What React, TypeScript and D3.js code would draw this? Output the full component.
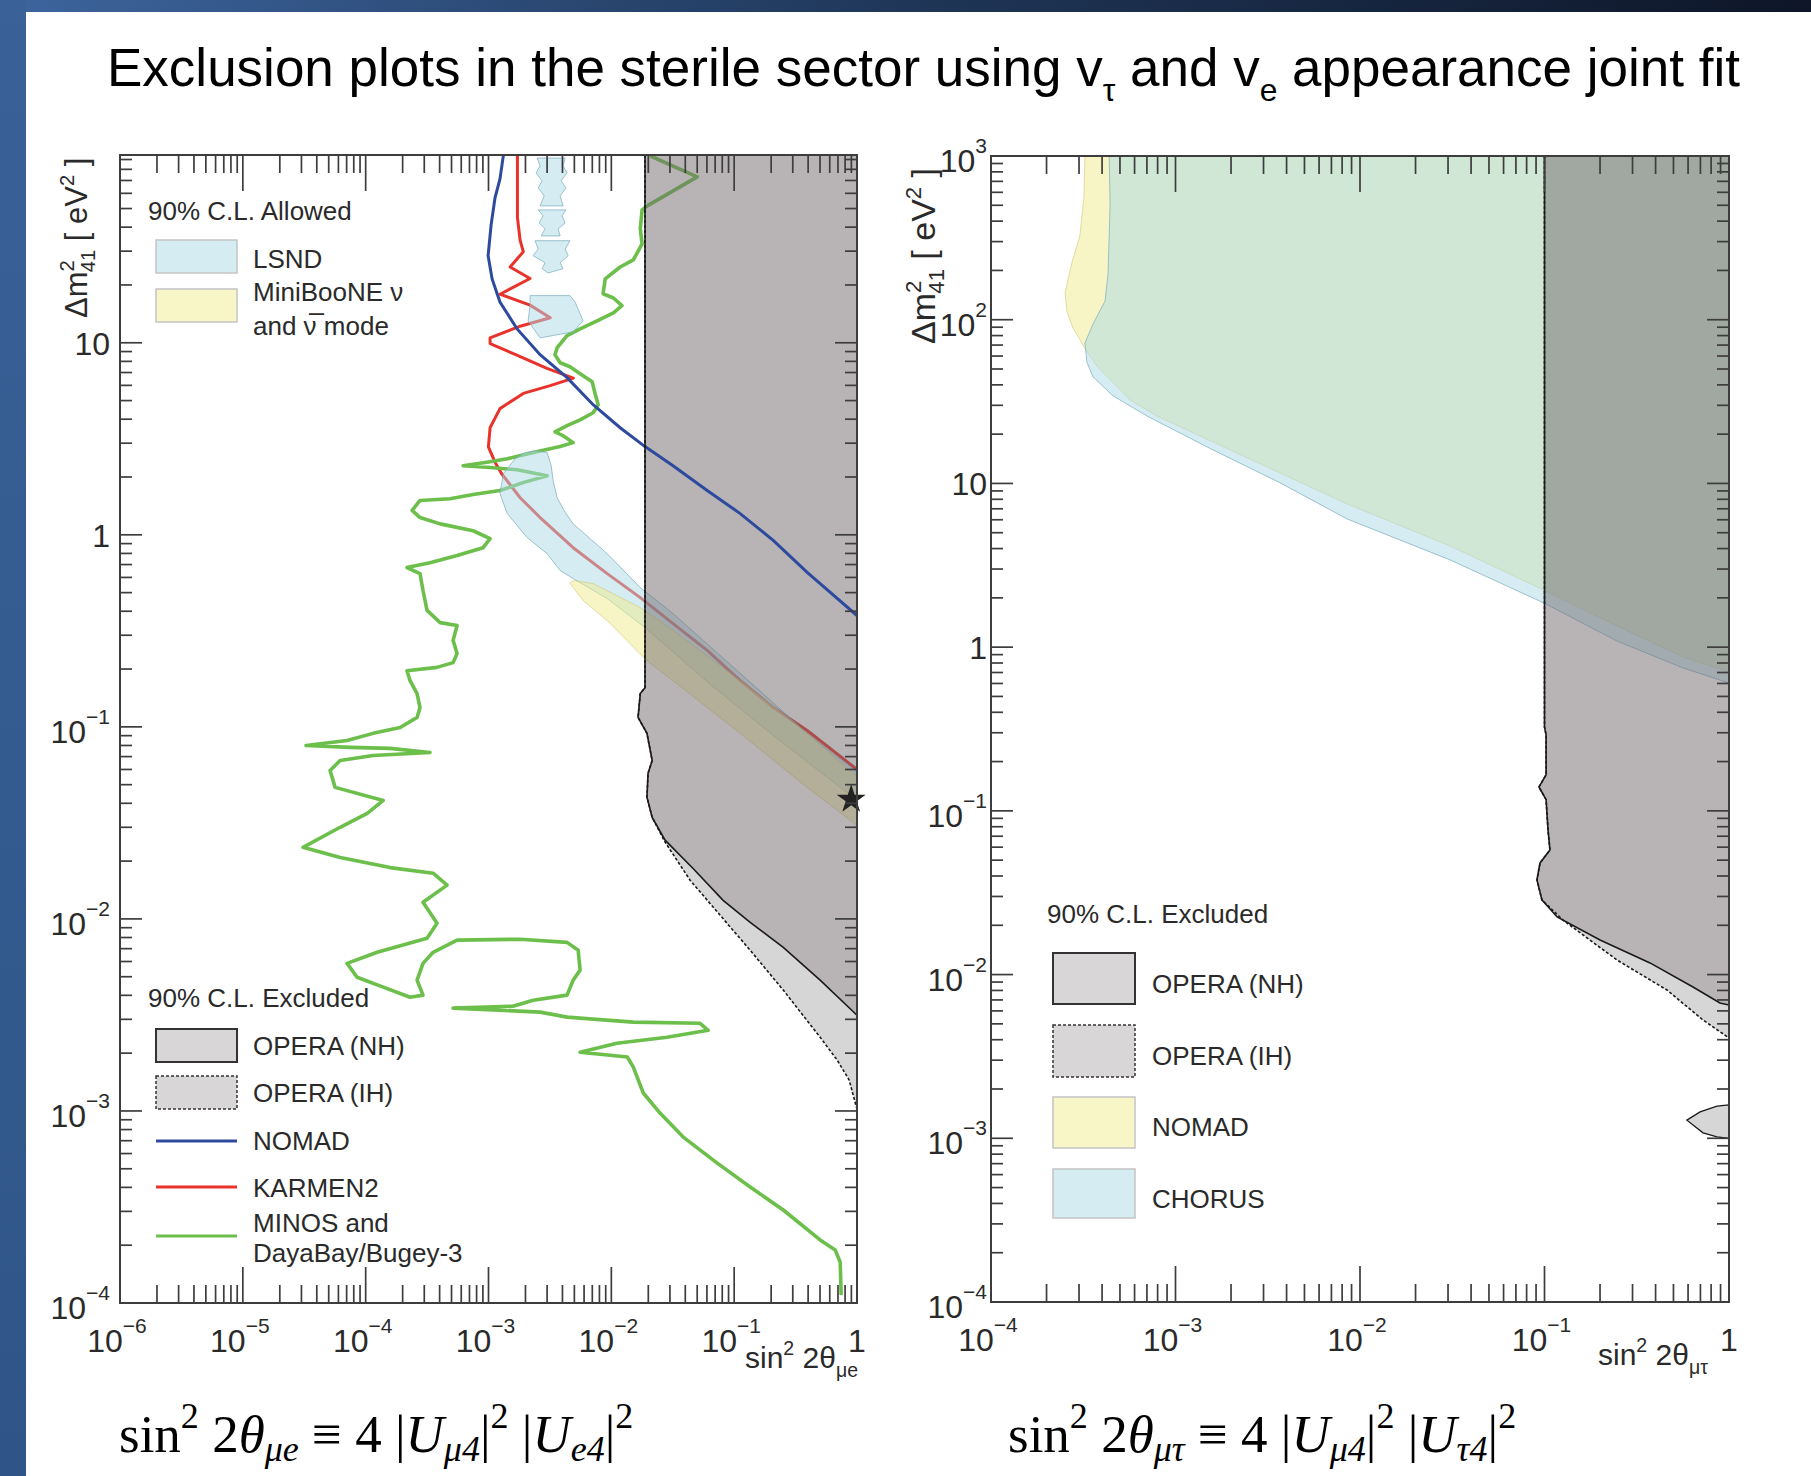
import React from 'react';
import * as d3 from 'd3';

type Pt = [number, number];

// ---------- left panel: sin^2 2theta_mue vs dm^2_41 ----------
const leftXDomain: Pt = [1e-6, 1];
const leftYDomain: Pt = [1e-4, 95];
const leftXExps = [-6, -5, -4, -3, -2, -1, 0];
const leftYExps = [-4, -3, -2, -1, 0, 1];

const lsndBand: Pt[] = [
  [2.39e-3, 2.74], [3.0e-3, 2.68], [3.24e-3, 2.29], [3.36e-3, 1.91], [3.62e-3, 1.56], [4.21e-3, 1.31],
  [4.89e-3, 1.14], [6.71e-3, 0.955], [9.25e-3, 0.798], [0.0172, 0.531], [0.0318, 0.389], [0.112, 0.19],
  [0.393, 0.0925], [1.0, 0.058], [1.0, 0.0414], [0.208, 0.0902], [0.0603, 0.172], [0.0188, 0.329],
  [9.25e-3, 0.466], [4.89e-3, 0.592], [3.83e-3, 0.652], [3.0e-3, 0.798], [2.06e-3, 0.968], [1.42e-3, 1.29],
  [1.24e-3, 1.64], [1.32e-3, 2.08], [1.65e-3, 2.49], [1.99e-3, 2.68],
];
const lsndIslandA: Pt[] = [
  [2.49e-3, 91.6], [4.21e-3, 91.6], [4.05e-3, 83.4], [4.36e-3, 76.7], [3.9e-3, 69.7], [4.28e-3, 64.0],
  [3.83e-3, 58.2], [4.05e-3, 51.6], [2.63e-3, 51.6], [2.84e-3, 58.2], [2.54e-3, 64.0], [2.73e-3, 69.7],
  [2.44e-3, 76.7], [2.63e-3, 83.4],
];
const lsndIslandB: Pt[] = [
  [2.54e-3, 49.2], [4.28e-3, 49.2], [3.97e-3, 45.8], [4.21e-3, 42.1], [3.69e-3, 39.2], [3.83e-3, 36.0],
  [2.68e-3, 36.0], [2.89e-3, 39.2], [2.58e-3, 42.1], [2.79e-3, 45.8],
];
const lsndIslandC: Pt[] = [
  [2.39e-3, 34.0], [4.61e-3, 34.0], [4.21e-3, 30.8], [4.45e-3, 28.4], [3.83e-3, 26.1], [4.05e-3, 24.3],
  [3.05e-3, 23.1], [2.73e-3, 24.3], [2.89e-3, 26.1], [2.31e-3, 28.4], [2.54e-3, 30.8],
];
const lsndBlob: Pt[] = [
  [2.18e-3, 17.6], [4.61e-3, 17.6], [5.07e-3, 16.3], [5.89e-3, 13.0], [4.89e-3, 11.4], [2.63e-3, 10.6],
  [2.1e-3, 13.0], [2.18e-3, 15.6],
];
const minibooneBand: Pt[] = [
  [4.89e-3, 0.578], [7.11e-3, 0.557], [0.0172, 0.418], [0.0318, 0.318], [0.112, 0.174], [0.393, 0.0925],
  [1, 0.0552], [1, 0.0307], [0.393, 0.0484], [0.112, 0.0925], [0.0318, 0.174], [0.0195, 0.221],
  [9.25e-3, 0.358], [5.89e-3, 0.455], [4.89e-3, 0.531], [4.6e-3, 0.56],
];
const operaNhLeft: Pt[] = [
  [0.0188, 95], [0.0188, 0.16], [0.0172, 0.149], [0.0165, 0.112], [0.0195, 0.0925], [0.0215, 0.0668],
  [0.0199, 0.0573], [0.0195, 0.043], [0.0215, 0.0338], [0.0274, 0.0257], [0.0463, 0.0183], [0.0813, 0.0125],
  [0.135, 9.59e-3], [0.251, 7.11e-3], [0.501, 4.8e-3], [1, 3.15e-3],
];
const operaIhLeft: Pt[] = [
  [0.0188, 95], [0.0188, 0.16], [0.0172, 0.149], [0.0165, 0.112], [0.0195, 0.0925], [0.0215, 0.0668],
  [0.0199, 0.0573], [0.0195, 0.043], [0.0215, 0.0338], [0.0274, 0.0251], [0.0438, 0.0159], [0.0769, 0.01045],
  [0.135, 6.87e-3], [0.251, 4.26e-3], [0.501, 2.42e-3], [0.69, 1.84e-3], [0.863, 1.45e-3], [1, 1.02e-3],
];
const nomadLeft: Pt[] = [
  [1.32e-3, 94], [1.24e-3, 71.3], [1.13e-3, 56.8], [1.05e-3, 41.1], [9.93e-4, 28.4], [1.07e-3, 21.5],
  [1.24e-3, 16.3], [1.71e-3, 11.8], [2.63e-3, 8.66], [4.36e-3, 6.58], [7.11e-3, 4.76], [0.0118, 3.61],
  [0.0188, 2.88], [0.0318, 2.29], [0.0603, 1.7], [0.112, 1.29], [0.208, 0.935], [0.393, 0.637], [1, 0.38],
];
const karmen2: Pt[] = [
  [1.72e-3, 94], [1.72e-3, 45.0], [1.81e-3, 34.1], [1.92e-3, 29.8], [1.5e-3, 24.8], [2.18e-3, 21.6],
  [1.24e-3, 17.9], [2.18e-3, 15.7], [3.18e-3, 13.5], [1.81e-3, 12.2], [1.03e-3, 10.6], [1.03e-3, 9.9],
  [1.7e-3, 8.63], [2.99e-3, 7.35], [4.91e-3, 6.55], [3.18e-3, 5.98], [1.92e-3, 5.45], [1.24e-3, 4.54],
  [1.03e-3, 3.61], [9.98e-4, 2.87], [1.13e-3, 2.39], [1.28e-3, 2.08], [1.81e-3, 1.56], [2.63e-3, 1.23],
  [4.89e-3, 0.857], [9.25e-3, 0.628], [0.0172, 0.471], [0.0318, 0.345], [0.0603, 0.25], [0.112, 0.174],
  [0.208, 0.126], [0.393, 0.0957], [1, 0.06],
];
const minos: Pt[] = [
  [0.0207, 94], [0.05, 73.1], [0.0196, 51.6], [0.0178, 49.2], [0.0172, 39.2], [0.0178, 32.7], [0.0151, 27.0],
  [0.0118, 24.8], [8.91e-3, 21.5], [8.57e-3, 18.0], [0.0104, 17.1], [0.0122, 15.6], [0.0104, 14.3],
  [7.66e-3, 13.0], [5.57e-3, 11.8], [4.36e-3, 10.9], [3.62e-3, 9.42], [3.48e-3, 8.67], [3.83e-3, 7.87],
  [4.61e-3, 7.5], [5.57e-3, 6.9], [6.98e-3, 6.27], [7.38e-3, 5.43], [7.82e-3, 4.75], [7.11e-3, 4.32],
  [5.57e-3, 3.97], [4.36e-3, 3.7], [3.48e-3, 3.44], [4.05e-3, 3.28], [4.89e-3, 3.02], [3.83e-3, 2.88],
  [2.31e-3, 2.68], [1.42e-3, 2.49], [1.03e-3, 2.4], [6.21e-4, 2.29], [1.03e-3, 2.24], [1.71e-3, 2.18],
  [3.0e-3, 2.03], [1.91e-3, 1.87], [1.24e-3, 1.7], [7.5e-4, 1.62], [4.86e-4, 1.54], [2.77e-4, 1.51],
  [2.39e-4, 1.34], [2.77e-4, 1.23], [4.04e-4, 1.14], [7.5e-4, 1.05], [1.03e-3, 0.955], [9.04e-4, 0.857],
  [5.55e-4, 0.78], [3.34e-4, 0.716], [2.17e-4, 0.675], [2.77e-4, 0.628], [2.93e-4, 0.513], [3.16e-4, 0.404],
  [4.04e-4, 0.349], [5.55e-4, 0.337], [5.15e-4, 0.282], [5.55e-4, 0.241], [5.15e-4, 0.216], [3.81e-4, 0.204],
  [2.17e-4, 0.196], [2.3e-4, 0.174], [2.62e-4, 0.149], [2.77e-4, 0.126], [2.62e-4, 0.112], [1.91e-4, 0.0993],
  [1.15e-4, 0.0925], [7.06e-5, 0.0849], [3.27e-5, 0.08], [7.46e-5, 0.0782], [1.58e-4, 0.0773],
  [3.34e-4, 0.0736], [1.15e-4, 0.071], [6.2e-5, 0.0668], [5.13e-5, 0.0593], [5.64e-5, 0.0484],
  [1.39e-4, 0.0414], [1.03e-4, 0.0354], [6.2e-5, 0.03], [3.09e-5, 0.0236], [6.2e-5, 0.0209],
  [1.58e-4, 0.0185], [3.54e-4, 0.0173], [4.6e-4, 0.015], [2.93e-4, 0.0122], [3.81e-4, 9.48e-3],
  [3.16e-4, 7.93e-3], [1.24e-4, 6.7e-3], [7.06e-5, 5.87e-3], [8.51e-5, 4.97e-3], [1.39e-4, 4.41e-3],
  [2.3e-4, 3.91e-3], [2.93e-4, 4.01e-3], [2.62e-4, 4.8e-3], [2.93e-4, 5.87e-3], [3.54e-4, 6.7e-3],
  [5.55e-4, 7.75e-3], [1.81e-3, 7.84e-3], [4.36e-3, 7.55e-3], [5.37e-3, 6.87e-3], [5.57e-3, 5.41e-3],
  [4.89e-3, 4.8e-3], [4.36e-3, 4.01e-3], [2.31e-3, 3.77e-3], [1.58e-3, 3.51e-3], [5.15e-4, 3.43e-3],
  [2.63e-3, 3.27e-3], [4.36e-3, 3.08e-3], [0.0151, 2.9e-3], [0.0528, 2.86e-3], [0.0614, 2.63e-3],
  [0.0284, 2.42e-3], [0.0111, 2.25e-3], [5.57e-3, 2.02e-3], [0.0135, 1.91e-3], [0.0151, 1.69e-3],
  [0.0182, 1.24e-3], [0.0249, 9.75e-4], [0.0385, 7.31e-4], [0.0728, 5.35e-4], [0.135, 4.02e-4],
  [0.251, 3.05e-4], [0.501, 2.13e-4], [0.664, 1.89e-4], [0.73, 1.63e-4], [0.743, 1.1e-4],
];
const bestFit: Pt = [0.897, 0.0419];

// ---------- right panel: sin^2 2theta_mutau vs dm^2_41 ----------
const rightXDomain: Pt = [1e-4, 1];
const rightYDomain: Pt = [1e-4, 1000];
const rightXExps = [-4, -3, -2, -1, 0];
const rightYExps = [-4, -3, -2, -1, 0, 1, 2, 3];

const nomadRight: Pt[] = [
  [3.23e-4, 1000], [3.19e-4, 562], [3.03e-4, 325], [2.75e-4, 225], [2.52e-4, 146], [2.58e-4, 112],
  [2.78e-4, 89], [3.03e-4, 76], [3.19e-4, 68], [3.76e-4, 52], [5.66e-4, 32.4], [7.94e-4, 25.8],
  [1.6e-3, 17.9], [3.68e-3, 11.6], [8.51e-3, 7.5], [0.0308, 4.15], [0.0993, 2.23], [0.247, 1.35],
  [0.564, 0.871], [1, 0.705], [1, 1000],
];
const chorusRight: Pt[] = [
  [4.37e-4, 1000], [4.42e-4, 502], [4.31e-4, 190], [4.15e-4, 130], [3.57e-4, 94], [3.23e-4, 72],
  [3.31e-4, 55], [3.57e-4, 44.8], [4.58e-4, 34.3], [7.01e-4, 25.8], [1.6e-3, 16.0], [3.68e-3, 10.1],
  [8.51e-3, 6.07], [0.0308, 3.41], [0.0993, 1.86], [0.247, 1.09], [0.564, 0.746], [1, 0.604], [1, 1000],
];
const operaNhRight: Pt[] = [
  [0.1, 1000], [0.1, 0.325], [0.102, 0.291], [0.102, 0.166], [0.0933, 0.14], [0.102, 0.117],
  [0.1045, 0.0764], [0.107, 0.0577], [0.0946, 0.0481], [0.091, 0.0379], [0.0968, 0.0286], [0.117, 0.0225],
  [0.2, 0.01626], [0.373, 0.01178], [0.638, 8.4e-3], [0.893, 6.71e-3], [1, 6.52e-3],
];
const operaIhRight: Pt[] = [
  [0.1, 1000], [0.1, 0.325], [0.102, 0.291], [0.102, 0.166], [0.0933, 0.14], [0.102, 0.117],
  [0.1045, 0.0764], [0.107, 0.0577], [0.0946, 0.0481], [0.091, 0.0379], [0.0968, 0.0286], [0.126, 0.0215],
  [0.247, 0.01228], [0.461, 8.05e-3], [0.723, 5.28e-3], [1, 4.1e-3],
];
const operaIhRightIsland: Pt[] = [
  [1, 1.6e-3], [0.861, 1.57e-3], [0.697, 1.45e-3], [0.591, 1.29e-3], [0.723, 1.08e-3], [0.861, 1.02e-3],
  [1, 1.0e-3],
];

// ---------- styling ----------
const SANS = "'Liberation Sans', Arial, Helvetica, sans-serif";
const SERIF = "'Liberation Serif', 'DejaVu Serif', 'Times New Roman', serif";
const INK = '#2a2a2a';
const AXIS = '#3d3d3d';
const LSND_FILL = 'rgba(171,217,231,0.5)';
const LSND_EDGE = 'rgba(130,175,192,0.75)';
const YEL_FILL = 'rgba(239,235,139,0.5)';
const YEL_EDGE = 'rgba(210,200,120,0.6)';
const IH_FILL = 'rgba(95,92,94,0.25)';
const NH_FILL = 'rgba(122,112,115,0.33)';
const NOMAD_BLUE = '#2e4a9e';
const KARMEN_RED = '#e8332b';
const MINOS_GREEN = '#6cbf4b';

type Seg = { t: string; k?: 'sup' | 'sub'; i?: boolean; dx?: number };

function Rich({ segs, size, supRise = 0.42, subDrop = 0.25, small = 0.65, ...rest }: any) {
  let off = 0;
  const spans = (segs as Seg[]).map((sg, idx) => {
    const target = sg.k === 'sup' ? -size * supRise : sg.k === 'sub' ? size * subDrop : 0;
    const dy = target - off;
    off = target;
    return (
      <tspan key={idx} dy={dy} dx={sg.dx} fontSize={sg.k ? size * small : size} fontStyle={sg.i ? 'italic' : 'normal'}>
        {sg.t}
      </tspan>
    );
  });
  return <text fontSize={size} {...rest}>{spans}</text>;
}

const minus = (e: number) => (e < 0 ? '\u2212' + -e : String(e));

function PowLabel({ x, y, e, anchor }: { x: number; y: number; e: number; anchor: string }) {
  if (e === 0) return <text x={x} y={y} textAnchor={anchor}>1</text>;
  if (e === 1) return <text x={x} y={y} textAnchor={anchor}>10</text>;
  return (
    <text x={x} y={y} textAnchor={anchor}>
      10<tspan dy={-19} fontSize={21}>{minus(e)}</tspan>
    </text>
  );
}

const isMajor = (v: number) => Math.abs(Math.log10(v) - Math.round(Math.log10(v))) < 1e-6;

function Frame({ x, y, xExps, yExps, yLabelGap }: any) {
  const [x0, x1] = x.range();
  const [y0, y1] = y.range(); // y0 bottom, y1 top
  const xt = x.ticks();
  const yt = y.ticks();
  return (
    <g>
      <g stroke={AXIS} strokeWidth={1.7}>
        {xt.map((v: number, i: number) => {
          const px = x(v);
          const len = isMajor(v) ? 36 : 18;
          return (
            <g key={'x' + i}>
              <line x1={px} x2={px} y1={y0} y2={y0 - len} />
              <line x1={px} x2={px} y1={y1} y2={y1 + len} />
            </g>
          );
        })}
        {yt.map((v: number, i: number) => {
          const py = y(v);
          const len = isMajor(v) ? 22 : 12;
          return (
            <g key={'y' + i}>
              <line x1={x0} x2={x0 + len} y1={py} y2={py} />
              <line x1={x1} x2={x1 - len} y1={py} y2={py} />
            </g>
          );
        })}
      </g>
      <rect x={x0} y={y1} width={x1 - x0} height={y0 - y1} fill="none" stroke={AXIS} strokeWidth={2} />
      <g fontFamily={SANS} fontSize={32} fill={INK}>
        {xExps.map((e: number) => (
          <PowLabel key={'xl' + e} e={e} x={e === 0 ? x(10 ** e) : x(10 ** e) - 3} y={y0 + 49} anchor="middle" />
        ))}
        {yExps.map((e: number) => (
          <PowLabel key={'yl' + e} e={e} x={x0 - yLabelGap} y={y(10 ** e) + (e === 0 || e === 1 ? 12 : 16)} anchor="end" />
        ))}
      </g>
    </g>
  );
}

export default function App() {
  const lx = d3.scaleLog().domain(leftXDomain).range([120, 857]);
  const ly = d3.scaleLog().domain(leftYDomain).range([1303, 155]);
  const rx = d3.scaleLog().domain(rightXDomain).range([991, 1729]);
  const ry = d3.scaleLog().domain(rightYDomain).range([1302, 156]);

  const lLine = d3.line<Pt>().x((d) => lx(d[0])).y((d) => ly(d[1]));
  const rLine = d3.line<Pt>().x((d) => rx(d[0])).y((d) => ry(d[1]));
  const lArea = (pts: Pt[]) => lLine(pts) + 'Z';
  const rArea = (pts: Pt[]) => rLine(pts) + 'Z';
  const lCorner: Pt = [leftXDomain[1], leftYDomain[1]];
  const rCorner: Pt = [rightXDomain[1], rightYDomain[1]];

  const star = d3.symbol().type(d3.symbolStar).size(260)();

  const formula = (sub1: string, sub2: string) => [
    { t: 'sin' }, { t: '2', k: 'sup' }, { t: ' 2' }, { t: 'θ', i: true }, { t: sub1, k: 'sub', i: true },
    { t: ' ≡ 4 |' }, { t: 'U', i: true }, { t: 'μ4', k: 'sub', i: true }, { t: '|' }, { t: '2', k: 'sup' },
    { t: ' |' }, { t: 'U', i: true }, { t: sub2, k: 'sub', i: true }, { t: '|' }, { t: '2', k: 'sup' },
  ];

  return (
    <svg width={1811} height={1476} style={{ position: 'absolute', left: 0, top: 0, background: '#fff' }}>
      <defs>
        <linearGradient id="topband" x1="0" x2="1" y1="0" y2="0">
          <stop offset="0" stopColor="#3d659e" />
          <stop offset="0.5" stopColor="#1f3658" />
          <stop offset="1" stopColor="#0e1628" />
        </linearGradient>
        <linearGradient id="sideband" x1="0" x2="0" y1="0" y2="1">
          <stop offset="0" stopColor="#3a6198" />
          <stop offset="1" stopColor="#2f5588" />
        </linearGradient>
        <clipPath id="clipL"><rect x={120} y={155} width={737} height={1148} /></clipPath>
        <clipPath id="clipR"><rect x={991} y={156} width={738} height={1146} /></clipPath>
      </defs>

      <rect x={0} y={0} width={1811} height={1476} fill="#fff" />
      <rect x={0} y={0} width={1811} height={12} fill="url(#topband)" />
      <rect x={0} y={0} width={26} height={1476} fill="url(#sideband)" />

      <Rich x={107} y={86} size={53} fontFamily={SANS} fill="#000" subDrop={0.28} small={0.6}
        segs={[
          { t: 'Exclusion plots in the sterile sector using v' }, { t: 'τ', k: 'sub' },
          { t: ' and v' }, { t: 'e', k: 'sub' }, { t: ' appearance joint fit' },
        ]} />

      {/* ----- left panel ----- */}
      <g clipPath="url(#clipL)">
        <path d={lLine(karmen2) || ''} fill="none" stroke={KARMEN_RED} strokeWidth={3} strokeLinejoin="round" />
        <path d={lLine(minos) || ''} fill="none" stroke={MINOS_GREEN} strokeWidth={3.6} strokeLinejoin="round" />
        {[lsndBand, lsndIslandA, lsndIslandB, lsndIslandC, lsndBlob].map((p, i) => (
          <path key={i} d={lArea(p)} fill={LSND_FILL} stroke={LSND_EDGE} strokeWidth={1} />
        ))}
        <path d={lArea(minibooneBand)} fill={YEL_FILL} stroke={YEL_EDGE} strokeWidth={1} />
        <path d={lArea([...operaIhLeft, lCorner])} fill={IH_FILL} />
        <path d={lArea([...operaNhLeft, lCorner])} fill={NH_FILL} />
        <path d={lLine(nomadLeft) || ''} fill="none" stroke={NOMAD_BLUE} strokeWidth={3} />
        <path d={lLine(operaNhLeft) || ''} fill="none" stroke="#1a1a1a" strokeWidth={1.6} />
        <path d={lLine(operaIhLeft) || ''} fill="none" stroke="#1a1a1a" strokeWidth={1.6} strokeDasharray="3,2" />
      </g>
      <path d={star || ''} transform={`translate(${lx(bestFit[0])},${ly(bestFit[1])})`} fill="#222" />
      <Frame x={lx} y={ly} xExps={leftXExps} yExps={leftYExps} yLabelGap={10} />

      {/* left legends */}
      <g fontFamily={SANS} fontSize={26} fill={INK}>
        <text x={148} y={220}>90% C.L. Allowed</text>
        <rect x={156} y={240} width={81} height={33} fill="#d5ecf3" stroke="#c4c4c4" strokeWidth={1.5} />
        <text x={253} y={268}>LSND</text>
        <rect x={156} y={289} width={81} height={33} fill="#f8f6c6" stroke="#c4c4c4" strokeWidth={1.5} />
        <text x={253} y={301}>MiniBooNE ν</text>
        <text x={253} y={335}>and ν̅ mode</text>

        <text x={148} y={1007}>90% C.L. Excluded</text>
        <rect x={156} y={1029} width={81} height={33} fill="#d8d6d7" stroke="#333" strokeWidth={2} />
        <text x={253} y={1055}>OPERA (NH)</text>
        <rect x={156} y={1076} width={81} height={33} fill="#d8d6d7" stroke="#333" strokeWidth={1.5} strokeDasharray="3,2" />
        <text x={253} y={1102}>OPERA (IH)</text>
        <line x1={156} x2={237} y1={1141} y2={1141} stroke={NOMAD_BLUE} strokeWidth={3} />
        <text x={253} y={1150}>NOMAD</text>
        <line x1={156} x2={237} y1={1187} y2={1187} stroke={KARMEN_RED} strokeWidth={3} />
        <text x={253} y={1197}>KARMEN2</text>
        <line x1={156} x2={237} y1={1236} y2={1236} stroke={MINOS_GREEN} strokeWidth={3} />
        <text x={253} y={1232}>MINOS and</text>
        <text x={253} y={1262}>DayaBay/Bugey-3</text>
      </g>

      <Rich x={745} y={1368} size={30} fontFamily={SANS} fill={INK} subDrop={0.3}
        segs={[{ t: 'sin' }, { t: '2', k: 'sup' }, { t: ' 2θ' }, { t: 'μe', k: 'sub' }]} />
      <Rich transform="translate(87,318) rotate(-90)" size={31} fontFamily={SANS} fill={INK}
        segs={[{ t: 'Δm' }, { t: '2', k: 'sup' }, { t: '41', k: 'sub', dx: -12 }, { t: ' [ eV' }, { t: '2', k: 'sup' }, { t: ' ]' }]} />

      {/* ----- right panel ----- */}
      <g clipPath="url(#clipR)">
        <path d={rArea(nomadRight)} fill={YEL_FILL} stroke={YEL_EDGE} strokeWidth={1} />
        <path d={rArea(chorusRight)} fill={LSND_FILL} stroke={LSND_EDGE} strokeWidth={1} />
        <path d={rArea([...operaIhRight, rCorner])} fill={IH_FILL} />
        <path d={rArea([...operaNhRight, rCorner])} fill={NH_FILL} />
        <path d={rArea(operaIhRightIsland)} fill={IH_FILL} stroke="#1a1a1a" strokeWidth={1.3} />
        <path d={rLine(operaNhRight) || ''} fill="none" stroke="#1a1a1a" strokeWidth={1.6} />
        <path d={rLine(operaIhRight) || ''} fill="none" stroke="#1a1a1a" strokeWidth={1.6} strokeDasharray="3,2" />
      </g>
      <Frame x={rx} y={ry} xExps={rightXExps} yExps={rightYExps} yLabelGap={4} />

      <g fontFamily={SANS} fontSize={26} fill={INK}>
        <text x={1047} y={923}>90% C.L. Excluded</text>
        <rect x={1053} y={953} width={82} height={51} fill="#d8d6d7" stroke="#333" strokeWidth={2} />
        <text x={1152} y={993}>OPERA (NH)</text>
        <rect x={1053} y={1025} width={82} height={52} fill="#d8d6d7" stroke="#333" strokeWidth={1.5} strokeDasharray="3,2" />
        <text x={1152} y={1065}>OPERA (IH)</text>
        <rect x={1053} y={1097} width={82} height={51} fill="#f8f6c6" stroke="#c4c4c4" strokeWidth={1.5} />
        <text x={1152} y={1136}>NOMAD</text>
        <rect x={1053} y={1169} width={82} height={49} fill="#d5ecf3" stroke="#c4c4c4" strokeWidth={1.5} />
        <text x={1152} y={1208}>CHORUS</text>
      </g>

      <Rich x={1598} y={1365} size={30} fontFamily={SANS} fill={INK} subDrop={0.3}
        segs={[{ t: 'sin' }, { t: '2', k: 'sup' }, { t: ' 2θ' }, { t: 'μτ', k: 'sub' }]} />
      <Rich transform="translate(935,344) rotate(-90)" size={34} fontFamily={SANS} fill={INK}
        segs={[{ t: 'Δm' }, { t: '2', k: 'sup' }, { t: '41', k: 'sub', dx: -13 }, { t: ' [ eV' }, { t: '2', k: 'sup' }, { t: ' ]' }]} />

      {/* ----- definitions under the panels ----- */}
      <Rich x={119} y={1452} size={53} fontFamily={SERIF} fill="#000" supRise={0.45} subDrop={0.17} small={0.68}
        segs={formula('μe', 'e4')} />
      <Rich x={1008} y={1452} size={53} fontFamily={SERIF} fill="#000" supRise={0.45} subDrop={0.17} small={0.68}
        segs={formula('μτ', 'τ4')} />
    </svg>
  );
}
